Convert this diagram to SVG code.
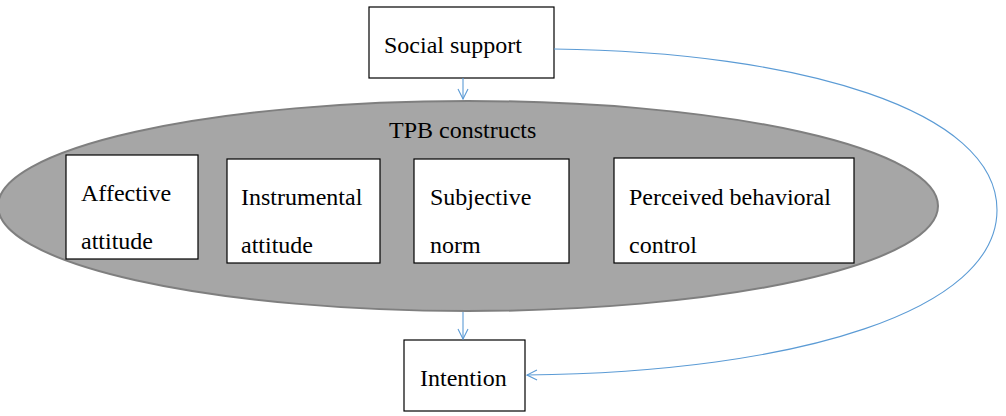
<svg xmlns="http://www.w3.org/2000/svg" width="1006" height="416" viewBox="0 0 1006 416">
<defs>
<style>
.box{fill:#fff;stroke:#000;stroke-width:1.2}
.t{font-family:"Liberation Serif","Times New Roman",serif;font-size:24px;fill:#000}
.c{fill:none;stroke:#5B9BD5;stroke-width:1.1}
</style>
<marker id="ah" viewBox="0 0 12 12" refX="11" refY="6" markerWidth="12" markerHeight="12" markerUnits="userSpaceOnUse" orient="auto">
<path d="M1,1 L11,6 L1,11" fill="none" stroke="#5B9BD5" stroke-width="1.1"/>
</marker>
</defs>
<rect width="1006" height="416" fill="#fff"/>
<g id="tpb">
<ellipse cx="468" cy="206" rx="470" ry="105" fill="#A6A6A6" stroke="#7F7F7F" stroke-width="2"/>
<text class="t" x="389" y="138">TPB constructs</text>
</g>
<g id="social">
<rect class="box" x="369" y="7" width="185" height="71"/>
<text class="t" x="384" y="53">Social support</text>
</g>
<g id="affective">
<rect class="box" x="66" y="155" width="132" height="104"/>
<text class="t" x="81" y="201">Affective</text>
<text class="t" x="81" y="249">attitude</text>
</g>
<g id="instrumental">
<rect class="box" x="227" y="159" width="153" height="104"/>
<text class="t" x="241" y="205">Instrumental</text>
<text class="t" x="241" y="253">attitude</text>
</g>
<g id="subjective">
<rect class="box" x="414" y="159" width="155" height="104"/>
<text class="t" x="430" y="205">Subjective</text>
<text class="t" x="430" y="253">norm</text>
</g>
<g id="perceived">
<rect class="box" x="614" y="158" width="240" height="105"/>
<text class="t" x="629" y="205">Perceived behavioral</text>
<text class="t" x="629" y="253">control</text>
</g>
<g id="intention">
<rect class="box" x="404" y="340" width="121" height="71"/>
<text class="t" x="420" y="386">Intention</text>
</g>
<g id="connectors">
<path class="c" d="M463,78 L463,99" marker-end="url(#ah)"/>
<path class="c" d="M463,312 L463,339" marker-end="url(#ah)"/>
<path class="c" d="M554,49 C800,52 997,110 997,210 C997,310 800,372 527,375" marker-end="url(#ah)"/>
</g>
</svg>
